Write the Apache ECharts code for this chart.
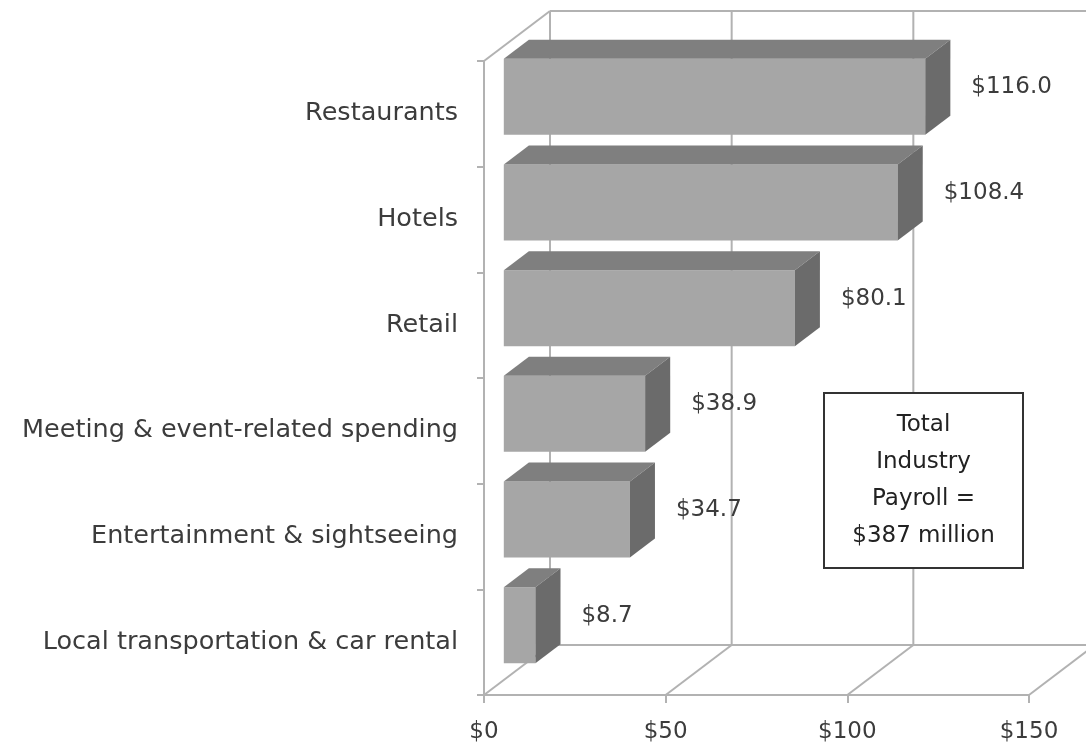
<!DOCTYPE html>
<html>
<head>
<meta charset="utf-8">
<script src="https://cdn.jsdelivr.net/npm/echarts@6/dist/echarts.min.js"></script>
<style>
  html, body { margin: 0; padding: 0; background: #fff; }
  #chart { width: 1086px; height: 747px; }
</style>
</head>
<body>
<div id="chart"></div>
<script>
// payroll by industry, $ millions
const categories = [
    'Restaurants',
    'Hotels',
    'Retail',
    'Meeting & event-related spending',
    'Entertainment & sightseeing',
    'Local transportation & car rental'
];
const payroll = [116.0, 108.4, 80.1, 38.9, 34.7, 8.7];
const ticks = [0, 50, 100, 150];
const totalNote = ['Total', 'Industry', 'Payroll =', '$387 million'];

const FONT = '"DejaVu Sans", "Open Sans", sans-serif';
const TEXT = '#3c3c3c';
const WALL = '#b2b2b2';

// depth of the fake 3d box (back plane offset in px)
const DX = 66, DY = -50;
const F1 = 0.30, F2 = 0.68;

const mychart = echarts.init(document.getElementById('chart'));

// back wall, floor and left wall edges, drawn with the first bar
function wallLines(cs, api) {
    const yb = cs.y + cs.height;
    const top = cs.y;
    const xEnd = cs.x + cs.width;
    const st = { stroke: WALL, lineWidth: 2, fill: null };
    const out = [];
    const ln = function (a, b, c, d) {
        out.push({ type: 'line', z2: 0, shape: { x1: a, y1: b, x2: c, y2: d }, style: st });
    };
    ticks.forEach(function (t) {
        const x = api.coord([t, 0])[0];
        ln(x, yb, x + DX, yb + DY);
        ln(x + DX, yb + DY, x + DX, top + DY);
    });
    const x0 = api.coord([0, 0])[0];
    ln(x0, top, x0 + DX, top + DY);
    ln(x0 + DX, top + DY, xEnd + DX, top + DY);
    ln(x0 + DX, yb + DY, xEnd + DX, yb + DY);
    return out;
}

function renderBar(params, api) {
    const v = api.value(0);
    const i = api.value(1);
    const c0 = api.coord([0, i]);
    const c1 = api.coord([v, i]);
    const band = api.size([0, 1])[1];
    const x0 = c0[0] + DX * F1;
    const x1 = c1[0] + DX * F1;
    const yc = c0[1] + DY * F1 - 2;
    const h = band * 0.72;
    const yt = yc - h / 2;
    const yb = yc + h / 2;
    const ddx = DX * (F2 - F1);
    const ddy = DY * (F2 - F1);
    let kids = params.dataIndex === 0 ? wallLines(params.coordSys, api) : [];
    kids = kids.concat([
        { type: 'rect', z2: 10, shape: { x: x0, y: yt, width: x1 - x0, height: h },
          style: { fill: '#a6a6a6' } },
        { type: 'polygon', z2: 10, shape: { points: [[x0, yt], [x1, yt], [x1 + ddx, yt + ddy], [x0 + ddx, yt + ddy]] },
          style: { fill: '#7f7f7f' } },
        { type: 'polygon', z2: 10, shape: { points: [[x1, yt], [x1 + ddx, yt + ddy], [x1 + ddx, yb + ddy], [x1, yb]] },
          style: { fill: '#6b6b6b' } },
        { type: 'text', z2: 10, x: x1 + ddx + 21, y: (yt + ddy + yb) / 2,
          style: { text: '$' + v.toFixed(1), fill: TEXT, font: '23px ' + FONT,
                   align: 'left', verticalAlign: 'middle' } }
    ]);
    return { type: 'group', children: kids };
}

const option = {
    animation: false,
    backgroundColor: '#fff',
    grid: { left: 484, right: 57, top: 61, bottom: 52 },
    xAxis: {
        type: 'value',
        min: 0, max: 150, interval: 50,
        splitLine: { show: false },
        axisLine: { show: true, lineStyle: { color: WALL, width: 2 } },
        axisTick: { show: true, length: 8, lineStyle: { color: WALL, width: 2 } },
        axisLabel: {
            margin: 26, color: TEXT, fontSize: 23, fontFamily: FONT,
            formatter: function (v) { return '$' + v; }
        }
    },
    yAxis: {
        type: 'category',
        inverse: true,
        data: categories,
        axisLine: { show: true, lineStyle: { color: WALL, width: 2 } },
        axisTick: { show: true, length: 7, lineStyle: { color: WALL, width: 2 } },
        axisLabel: { margin: 26, color: TEXT, fontSize: 25.5, fontFamily: FONT }
    },
    series: [{
        type: 'custom',
        clip: false,
        renderItem: renderBar,
        data: payroll.map(function (v, k) { return [v, k]; })
    }],
    graphic: [{
        type: 'group', left: 823, top: 392, z: 100,
        children: [
            { type: 'rect', z: 100, shape: { x: 0, y: 0, width: 199, height: 175 },
              style: { fill: '#fff', stroke: '#333', lineWidth: 2 } },
            { type: 'text', z: 101, x: 99.5, y: 87.5,
              style: { text: totalNote.join('\n'), fill: '#222', font: '23px ' + FONT,
                       lineHeight: 37, align: 'center', verticalAlign: 'middle' } }
        ]
    }]
};
mychart.setOption(option);
</script>
</body>
</html>
